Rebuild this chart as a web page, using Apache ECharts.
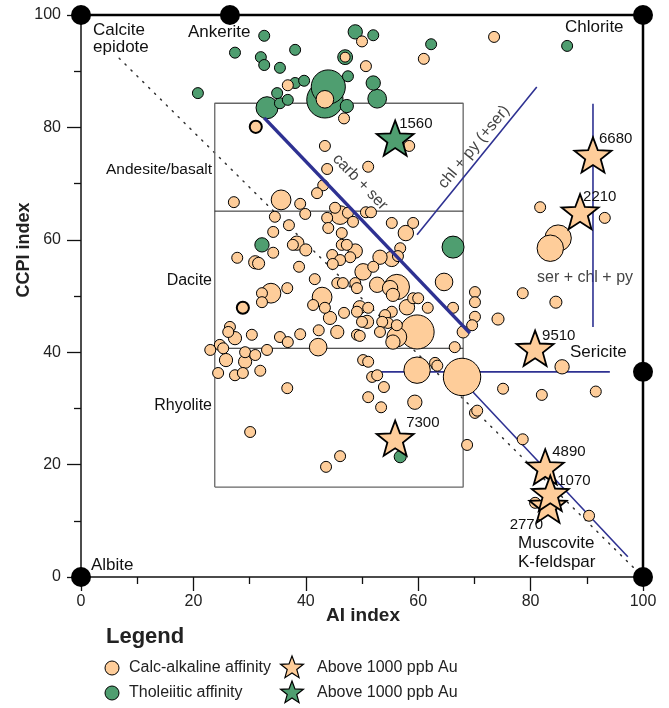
<!DOCTYPE html>
<html><head><meta charset="utf-8">
<script src="https://cdn.jsdelivr.net/npm/echarts@6/dist/echarts.min.js"></script>
<style>html,body{margin:0;padding:0;background:#fff}#c{width:669px;height:708px}</style>
</head><body><div id="c"></div>
<script>
// ---------- DATA ----------
// [AI index, CCPI index, relative bubble size]
const calcAlkaline = [
[50,95.3,1],[47,92.5,0.9],[36.8,87.5,1],[43.4,85,1.6],[46.8,81.6,1],[43.4,76.7,1],[43.8,72.6,1],[43.1,69.7,1],[42,68.3,1],[35.6,67.1,1.8],
[61,92.2,1],[73.5,96.1,1],[50.7,90.9,1],[58.4,76.7,1],[51.1,73,1],
[27.2,66.7,1],[39,66.4,1],[34.5,64.1,1],[39.9,64.6,1],[45.2,65.7,1],[46.1,64.4,1.7],[47.5,64.8,1],[43.8,63.9,1],[48.4,63.2,1],[50.7,64.9,1],[51.6,64.9,1],[44,62.1,1],[37,62.6,1],[34.2,61.4,1],[55.3,63,1],[59.1,63,1],[57.8,61.2,1.4],[46.4,61.2,1],
[37.7,59.1,1],[38.4,59.4,1.3],[40,58.2,1.1],[34.2,57.7,1],[46.4,59.1,1],[47.3,59.1,1],[48.8,58,1.3],[44.7,57.3,1],[47.9,56.9,1],[46.1,56.4,1],[44.8,55.7,1],[53.2,56.9,1.3],[55.3,56.6,1.4],[56.8,58.5,1],[56.4,57.1,1],[27.8,56.8,1],[31,56,1.2],[31.6,55.8,1.1],[38.8,55.2,1],[50.2,54.3,1.5],[52,55.2,1],[41.6,53,1],
[32.2,50.5,1],[33.8,50.5,1.8],[36.7,51.4,1],[32.2,48.9,1],[42.9,49.8,1.8],[45.6,52.3,1],[46.6,52.3,1],[48.8,52.3,1],[49.1,51.4,1],[52.7,52,1.4],[56.2,51.6,2.3],[55,51.4,1.4],[55.5,50.2,1.2],[59.1,49.6,1],[60,49.6,1],[64.6,52.5,1.6],[70.1,50.7,1],[70.1,48.9,1],[70.1,46.3,1],[69.6,44.8,1],[66.2,47.9,1],[68,43.6,1.1],[61.7,47.9,1],[58,48,1.4],[55.3,47.2,1],[54.1,46.6,1],[49.6,48,1.2],[51.1,47.9,1],[49.1,47.2,1],[41.3,48.4,1],[43.4,47.9,1],[44.3,46.1,1.2],[46.8,47,1],
[50.9,45.4,1.2],[50,45.4,1],[54.6,45.2,1],[53.6,45.4,1],[56.2,44.8,1],[53.2,43.6,1],[59.8,43.6,3.1],[56.2,42.7,1.8],[55.5,41.8,1.3],[45.6,43.6,1.2],[42.3,43.9,1],[39,43.2,1],[35.4,42.7,1],[36.8,41.8,1],[30.4,43.1,1],[27.4,42.5,1.2],[26.5,44.5,1],[26.2,43.6,1],[24.7,41.3,1],[23,40.4,1],[25.3,40.7,1],[29.2,40,1],[33.1,40.4,1],[42.2,40.9,1.6],[49.1,43.1,1],[49.6,42.9,1],[66.5,40.9,1],
[25.8,38.6,1.2],[29.2,38.3,1.2],[31,39.5,1],[24.4,36.3,1],[27.4,35.9,1],[28.8,36.3,1],[31.9,36.7,1],[50.2,38.6,1],[51.1,38.3,1],[59.8,36.8,2.4],[63,38.1,1],[63.4,37.6,1],[67.8,35.6,3.4],[51.8,35.6,1],[52.7,35.9,1],
[36.7,33.6,1],[30.1,25.8,1],[46.1,21.5,1],[43.6,19.6,1],
[51.1,32,1],[53.9,33.8,1],[53.4,30.2,1],[59.4,31.1,1.3],[75.1,33.5,1],[82,32.4,1],[91.6,33,1],[70.1,29.2,1],[70.5,29.6,1],[78.6,24.5,1],[68.7,23.5,1],[80.8,13.2,1],[90.4,10.9,1],
[81.7,65.8,1],[93.2,63.9,1],[84.9,60.3,2.4],[83.5,58.5,2.4],[78.6,50.5,1],[84.5,48.9,1.1],[74.2,45.9,1.1],[85.6,37.4,1.3]
];
const calcRinged = [[31.1,80.1,1.1],[28.8,47.9,1.1]];
const tholeiitic = [
[32.6,96.3,1],[27.4,93.3,1],[32,92.5,1],[32.6,91.1,1],[38.1,93.8,1],[35.4,90.6,1],[20.8,86.1,1],[48.8,97,1.3],[47,92.5,1.35],
[33.1,83.5,2],[35.4,84.3,1],[36.8,84.9,1],[34.9,86.1,1],[38.1,87.9,1],[39.7,88.3,1],[44,87.2,3.1],[43.4,84.9,3.3],[47.5,89.1,1],[47.3,83.8,1.2],
[52,96.4,1],[62.3,94.8,1],[86.5,94.5,1],[52,87.9,1.3],[52.7,85.1,1.7],[32.2,59.1,1.3],[66.2,58.7,2],[56.8,21.4,1.1]
];
// [AI, CCPI, Au ppb]
const calcStars = [[91.1,75.1,6680],[88.8,65,2210],[80.8,40.7,9510],[55.9,24.7,7300],[83.1,12.8,2770],[82.6,19.6,4890],[83.5,14.9,1070]];
const tholStars = [[55.9,78.1,1560]];
// end-member minerals
const endMembers = [[0,0],[0,100],[26.5,100],[100,100],[100,36.5],[100,0]];
// diagram reference lines
const frameLine = [[0,100],[100,100],[100,0]];
const leastAlteredBox = [[23.8,16],[23.8,84.3],[68,84.3],[68,16],[23.8,16]];
const daciteUpper = [[23.8,65.1],[68,65.1]];
const daciteLower = [[23.8,40.7],[68,40.7]];
const diagonal = [[6.8,92.3],[99.6,0.4]];
const carbSerTrend = [[32.6,81.7],[69.2,43.4]];
const serTrend = [[67.4,35.4],[97.3,3.6]];
const chlPyTrend = [[59.8,60.9],[81.1,87.2]];
const serChlPyTrend = [[91.1,44.5],[91.1,84.2]];
const sericiteTrend = [[52,36.5],[94.1,36.5]];
const axisTicks = [0,20,40,60,80,100];

// ---------- STYLE ----------
const ORANGE = '#FECD9A', GREEN = '#4F9E70', BLUE = '#2E3192';
const FONT = '"Liberation Sans", Arial, sans-serif';
function starPts(ro, ri){const p=[];for(let k=0;k<10;k++){const r=k%2?ri:ro;const a=-Math.PI/2+k*Math.PI/5;p.push([r*Math.cos(a), r*Math.sin(a)]);}return p;}
function starPath(ro, ri){return starPts(ro,ri).map((q,k)=>(k?'L':'M')+q[0].toFixed(2)+' '+q[1].toFixed(2)).join('')+'Z';}
const STAR = 'path://'+starPath(50,21);
const starLabelOffset = {6680:[6,-16],2210:[3,-15],9510:[7,-12],7300:[11,-15],4890:[7,-15],1070:[7,-12],2770:[-5,20],1560:[4,-14]};
const sizeScale = 11;
const sortBySize = a => a.slice().sort((p,q)=>q[2]-p[2]);
function legendStar(cx, cy, r, fill){
  return {type:'polygon', shape:{points:starPts(r, r*0.42).map(q=>[cx+q[0], cy+q[1]+1])}, style:{fill, stroke:'#000', lineWidth:1.2}};
}

function lineSeries(data, style, z){
  return {type:'line', data, symbol:'none', silent:true, clip:false, animation:false, z:z||2,
    lineStyle:Object.assign({color:BLUE,width:1.5},style)};
}
function starSeries(data, color){
  return {type:'scatter', symbol:STAR, symbolKeepAspect:true, symbolSize:37, z:5, animation:false,
    itemStyle:{color, borderColor:'#000', borderWidth:1.8, opacity:1},
    label:{show:true, position:'inside', fontFamily:FONT, fontSize:15, color:'#111',
      formatter:p=>String(p.value[2])},
    data: data.map(d=>{const o=starLabelOffset[d[2]]||[6,-15];
      return {value:d, label:{offset:o, align:o[0]<0?'right':'left', verticalAlign:'middle'}};})
  };
}

const chart = echarts.init(document.getElementById('c'), null, {renderer:'canvas'});
const axisCommon = {
  type:'value', min:0, max:100, interval:20,
  axisLine:{show:true, lineStyle:{color:'#111', width:1.5}},
  axisTick:{show:true, inside:false, length:14, lineStyle:{color:'#111', width:1.3}},
  minorTick:{show:true, splitNumber:2, length:7, lineStyle:{color:'#111', width:1.3}},
  splitLine:{show:false},
  axisLabel:{fontFamily:FONT, fontSize:16, color:'#222',
    formatter:v=>axisTicks.includes(v)?String(v):''}
};
chart.setOption({
  animation:false,
  grid:{left:81, right:26, top:15, bottom:131, containLabel:false},
  xAxis:Object.assign({}, axisCommon, {axisLabel:Object.assign({}, axisCommon.axisLabel, {margin:17})}),
  yAxis:Object.assign({}, axisCommon, {axisLabel:Object.assign({}, axisCommon.axisLabel, {margin:20})}),
  series:[
    lineSeries(diagonal, {color:'#333', width:1.5, type:[1.3,7], cap:'round'}),
    lineSeries(leastAlteredBox, {color:'#666', width:1.3}),
    lineSeries(daciteUpper, {color:'#222', width:1}),
    lineSeries(daciteLower, {color:'#222', width:1}),
    lineSeries(chlPyTrend, {width:1.6}),
    lineSeries(serChlPyTrend, {width:1.6}),
    lineSeries(sericiteTrend, {width:1.6}),
    lineSeries(serTrend, {width:1.6}),
    {type:'scatter', name:'Tholeiitic affinity', data:sortBySize(tholeiitic), symbol:'circle',
      symbolSize:v=>v[2]*sizeScale, z:3, animation:false,
      itemStyle:{color:GREEN, borderColor:'#000', borderWidth:1, opacity:1}},
    {type:'scatter', name:'Calc-alkaline affinity', data:sortBySize(calcAlkaline), symbol:'circle',
      symbolSize:v=>v[2]*sizeScale, z:3, animation:false,
      itemStyle:{color:ORANGE, borderColor:'#000', borderWidth:1, opacity:1}},
    {type:'scatter', data:calcRinged, symbol:'circle', symbolSize:v=>v[2]*sizeScale, z:3, animation:false,
      itemStyle:{color:ORANGE, borderColor:'#000', borderWidth:2, opacity:1}},
    lineSeries(carbSerTrend, {width:3.5}, 4),
    starSeries(calcStars, ORANGE),
    starSeries(tholStars, GREEN),
    lineSeries(frameLine, {color:'#000', width:2.5}, 6),
    {type:'scatter', data:endMembers, symbol:'circle', symbolSize:20, clip:false, z:7, animation:false,
      itemStyle:{color:'#000', opacity:1}}
  ],
  graphic:{elements:[
    {type:'text', x:93, y:30, style:{text:'Calcite', font:'17px '+FONT, fill:'#111', textVerticalAlign:'middle'}},
    {type:'text', x:93, y:47, style:{text:'epidote', font:'17px '+FONT, fill:'#111', textVerticalAlign:'middle'}},
    {type:'text', x:188, y:32, style:{text:'Ankerite', font:'17px '+FONT, fill:'#111', textVerticalAlign:'middle'}},
    {type:'text', x:565, y:27, style:{text:'Chlorite', font:'17px '+FONT, fill:'#111', textVerticalAlign:'middle'}},
    {type:'text', x:570, y:352, style:{text:'Sericite', font:'17px '+FONT, fill:'#111', textVerticalAlign:'middle'}},
    {type:'text', x:91, y:565, style:{text:'Albite', font:'17px '+FONT, fill:'#111', textVerticalAlign:'middle'}},
    {type:'text', x:518, y:543, style:{text:'Muscovite', font:'17px '+FONT, fill:'#111', textVerticalAlign:'middle'}},
    {type:'text', x:518, y:562, style:{text:'K-feldspar', font:'17px '+FONT, fill:'#111', textVerticalAlign:'middle'}},
    {type:'text', x:212, y:170, style:{text:'Andesite/basalt', font:'15.5px '+FONT, fill:'#111', textAlign:'right', textVerticalAlign:'middle'}},
    {type:'text', x:212, y:281, style:{text:'Dacite', font:'16px '+FONT, fill:'#111', textAlign:'right', textVerticalAlign:'middle'}},
    {type:'text', x:212, y:406, style:{text:'Rhyolite', font:'16px '+FONT, fill:'#111', textAlign:'right', textVerticalAlign:'middle'}},
    {type:'text', x:360, y:182, rotation:-0.80, style:{text:'carb + ser', font:'16px '+FONT, fill:'#444', textAlign:'center', textVerticalAlign:'middle'}},
    {type:'text', x:474, y:147, rotation:0.88, style:{text:'chl + py (+ser)', font:'16px '+FONT, fill:'#444', textAlign:'center', textVerticalAlign:'middle'}},
    {type:'text', x:537, y:278, style:{text:'ser + chl + py', font:'16px '+FONT, fill:'#444', textVerticalAlign:'middle'}},
    {type:'text', x:363, y:616, style:{text:'AI index', font:'bold 19px '+FONT, fill:'#222', textAlign:'center', textVerticalAlign:'middle'}},
    {type:'text', x:24, y:250, rotation:Math.PI/2, style:{text:'CCPI index', font:'bold 18px '+FONT, fill:'#222', textAlign:'center', textVerticalAlign:'middle'}},
    {type:'text', x:106, y:637, style:{text:'Legend', font:'bold 22px '+FONT, fill:'#222', textVerticalAlign:'middle'}},
    {type:'circle', shape:{cx:112, cy:668, r:7}, style:{fill:ORANGE, stroke:'#000', lineWidth:1}},
    {type:'text', x:129, y:668, style:{text:'Calc-alkaline affinity', font:'16px '+FONT, fill:'#222', textVerticalAlign:'middle'}},
    {type:'circle', shape:{cx:112, cy:693, r:7}, style:{fill:GREEN, stroke:'#000', lineWidth:1}},
    {type:'text', x:129, y:693, style:{text:'Tholeiitic affinity', font:'16px '+FONT, fill:'#222', textVerticalAlign:'middle'}},
    legendStar(292, 667, 12, ORANGE),
    {type:'text', x:317, y:668, style:{text:'Above 1000 ppb Au', font:'16px '+FONT, fill:'#222', textVerticalAlign:'middle'}},
    legendStar(292, 692, 12, GREEN),
    {type:'text', x:317, y:693, style:{text:'Above 1000 ppb Au', font:'16px '+FONT, fill:'#222', textVerticalAlign:'middle'}}
  ]}
});
</script>
</body></html>
